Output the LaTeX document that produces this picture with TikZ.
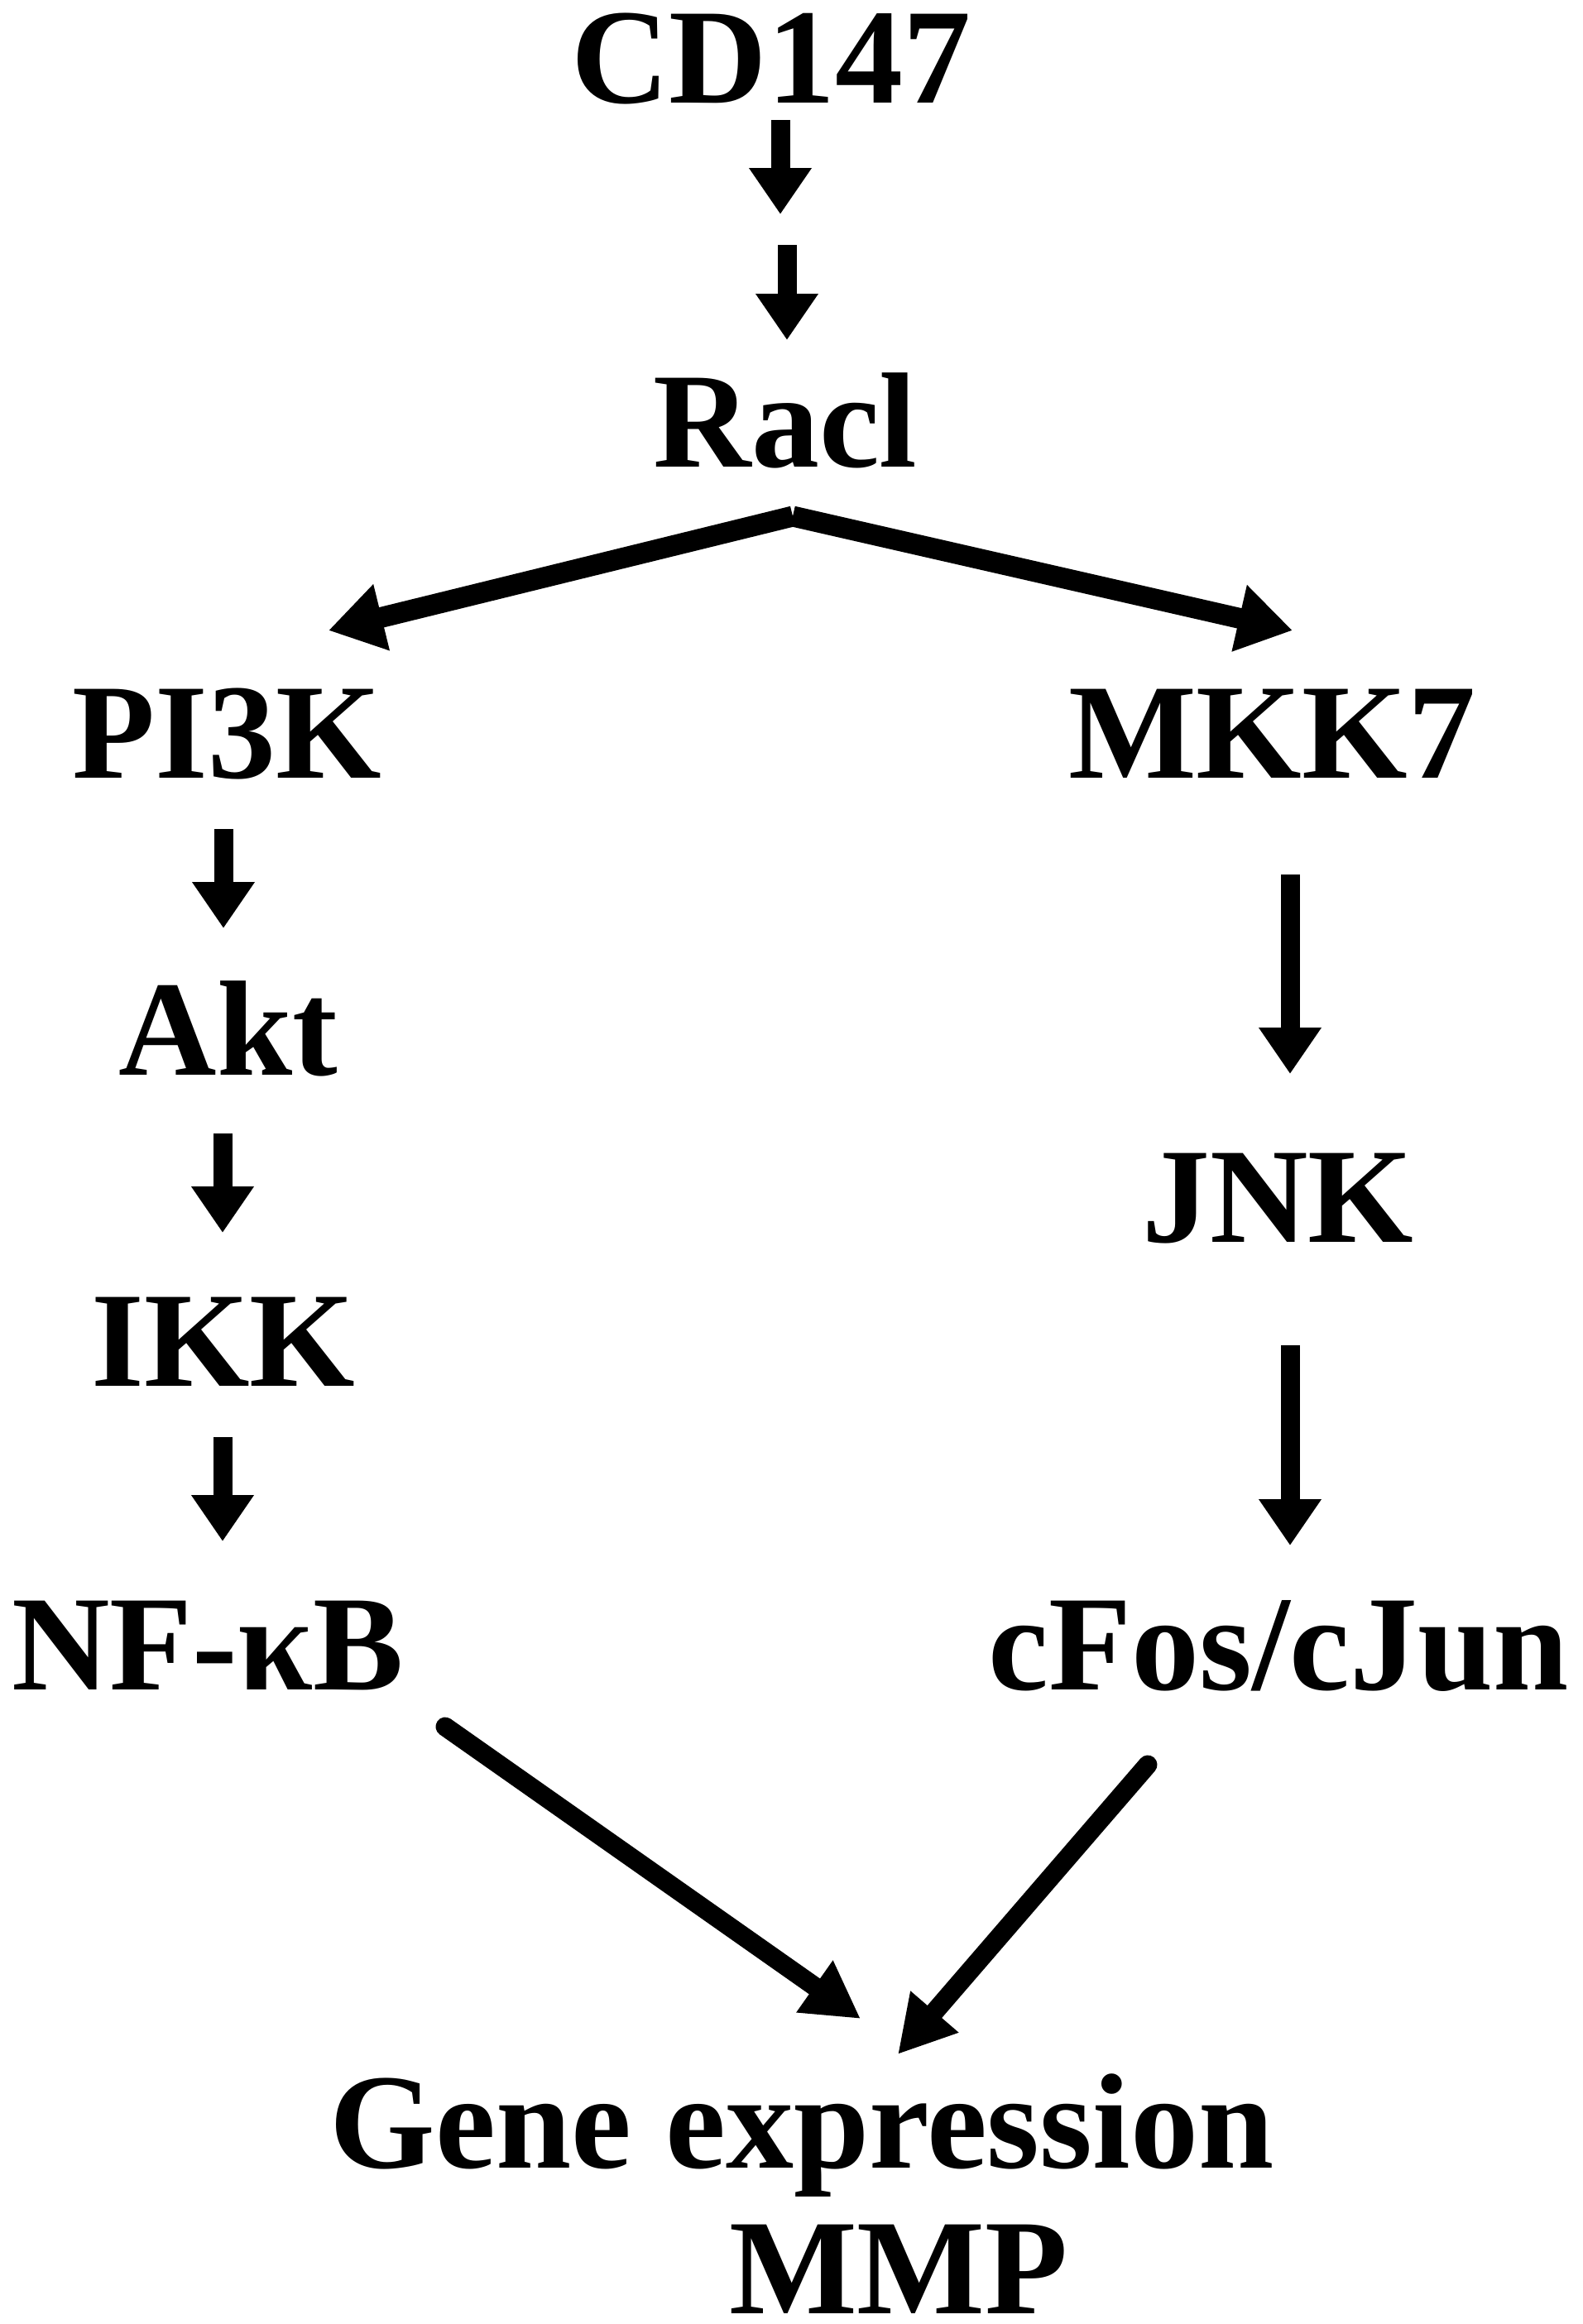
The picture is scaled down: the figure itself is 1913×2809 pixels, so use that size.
\documentclass[tikz,border=0pt]{standalone}
\usepackage{fontspec}
\setmainfont{Liberation Serif}
\usetikzlibrary{arrows.meta}
\begin{document}
\begin{tikzpicture}[x=1pt,y=-1pt,
  lbl/.style={font=\bfseries\fontsize{164}{164}\selectfont, anchor=base, inner sep=0pt},
  arr/.style={line width=23pt, -{Triangle[length=56pt,width=72pt]}},
  fork/.style={line width=25pt, -{Triangle[length=66pt,width=78pt]}},
  diag/.style={line width=23pt, line cap=round, -{Triangle[length=68pt,width=72pt]}}]
\useasboundingbox (0,0) rectangle (1913,2809);
\fill[white] (0,0) rectangle (1913,2809);
% labels
\node[lbl] (cd)   at (932,124)  {CD147};
\node[lbl] (rac)  at (949,564)  {Racl};
\node[lbl] (pi3k) at (274,940)  {PI3K};
\node[lbl] (mkk7) at (1537,940) {MKK7};
\node[lbl] (akt)  at (276,1299) {Akt};
\node[lbl] (ikk)  at (270,1675) {IKK};
\node[lbl] (nfkb) at (251,2042) {NF-κB};
\node[lbl] (jnk)  at (1544,1501) {JNK};
\node[lbl] (fos)  at (1545,2042) {cFos/cJun};
\node[lbl] (gene) at (969,2620) {Gene expression};
\node[lbl] (mmp)  at (1086,2796) {MMP};
% arrow end points
\coordinate (a1s) at (943,145);  \coordinate (a1e) at (943,259);
\coordinate (a2s) at (951,296);  \coordinate (a2e) at (951,411);
\coordinate (apex) at (958,624);
\coordinate (fl) at (397,762);   \coordinate (fr) at (1562,762);
\coordinate (b1s) at (270,1002); \coordinate (b1e) at (270,1122);
\coordinate (b2s) at (269,1370); \coordinate (b2e) at (269,1490);
\coordinate (b3s) at (269,1737); \coordinate (b3e) at (269,1863);
\coordinate (c1s) at (1559,1057); \coordinate (c1e) at (1559,1298);
\coordinate (c2s) at (1559,1626); \coordinate (c2e) at (1559,1868);
\coordinate (d1s) at (538,2087); \coordinate (d1e) at (1040,2440);
\coordinate (d2s) at (1387,2133); \coordinate (d2e) at (1085,2483);
% connectors
\draw[arr] (a1s) -- (a1e);
\draw[arr] (a2s) -- (a2e);
\draw[fork] (apex) -- (fl);
\draw[fork] (apex) -- (fr);
\draw[arr] (b1s) -- (b1e);
\draw[arr] (b2s) -- (b2e);
\draw[arr] (b3s) -- (b3e);
\draw[arr] (c1s) -- (c1e);
\draw[arr] (c2s) -- (c2e);
\draw[diag] (d1s) -- (d1e);
\draw[diag] (d2s) -- (d2e);
\end{tikzpicture}
\end{document}
